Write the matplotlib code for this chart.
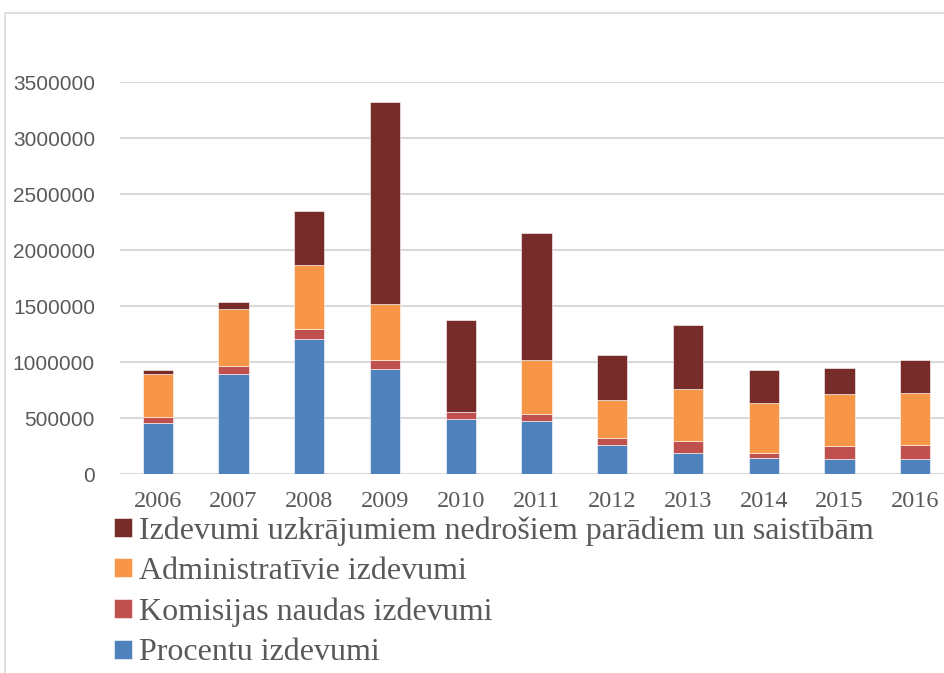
import matplotlib
matplotlib.use("Agg")
import matplotlib.pyplot as plt
from matplotlib.patches import Rectangle
import numpy as np

# dati (nolasīti no attēla)
years = ["2006", "2007", "2008", "2009", "2010", "2011", "2012", "2013", "2014", "2015", "2016"]
procentu = [453000, 890000, 1208000, 935000, 488000, 476000, 256000, 185000, 140000, 131000, 134000]
komisijas = [56000, 77000, 90000, 86000, 66000, 60000, 62000, 107000, 47000, 116000, 128000]
administrativie = [381000, 506000, 568000, 497000, 0, 485000, 340000, 470000, 444000, 464000, 461000]
uzkrajumi = [39000, 66000, 479000, 1800000, 825000, 1128000, 407000, 565000, 295000, 235000, 295000]

labels = ["Procentu izdevumi", "Komisijas naudas izdevumi",
          "Administratīvie izdevumi",
          "Izdevumi uzkrājumiem nedrošiem parādiem un saistībām"]
colors = ["#4F81BD", "#C0504D", "#F79646", "#772C2A"]
series = [procentu, komisijas, administrativie, uzkrajumi]

fig = plt.figure(figsize=(9.44, 6.73), dpi=100)
ax = fig.add_axes([120 / 944, 1 - 474 / 673, 833 / 944, 392 / 673])

x = np.arange(len(years))
bottom = np.zeros(len(years))
handles = []
for vals, col, lab in zip(series, colors, labels):
    b = ax.bar(x, vals, 0.4, bottom=bottom, color=col, label=lab,
               edgecolor="white", linewidth=0.4, zorder=3)
    handles.append(b)
    bottom += np.array(vals)

ax.set_ylim(0, 3500000)
ax.set_xlim(-0.5, len(years) - 0.5)
ax.set_yticks(np.arange(0, 3500001, 500000))
ax.yaxis.grid(True, color="#d9d9d9", linewidth=1.5, zorder=0)
for s in ax.spines.values():
    s.set_visible(False)
ax.tick_params(length=0)
ax.set_yticklabels([str(v) for v in range(0, 3500001, 500000)],
                   fontfamily="Liberation Sans", fontsize=15, color="#595959")
ax.set_xticks(x)
ax.set_xticklabels(years, fontfamily="Liberation Serif", fontsize=17.5, color="#595959")
ax.tick_params(axis="y", pad=18)
ax.tick_params(axis="x", pad=12)

leg = fig.legend(handles[::-1], labels[::-1], loc="upper left",
                 bbox_to_anchor=(114 / 944, 1 - 516 / 673), frameon=False,
                 prop={"family": "Liberation Serif", "size": 23},
                 labelspacing=0.36, handlelength=0.55, handleheight=0.55,
                 handletextpad=0.22, borderpad=0, borderaxespad=0)
for t in leg.get_texts():
    t.set_color("#595959")

fig.patches.append(Rectangle((5 / 944, -0.05), 1.1, 0.05 + 1 - 13 / 673,
                             transform=fig.transFigure, fill=False,
                             edgecolor="#d9d9d9", linewidth=1.2))

fig.savefig("out.png", dpi=100)
